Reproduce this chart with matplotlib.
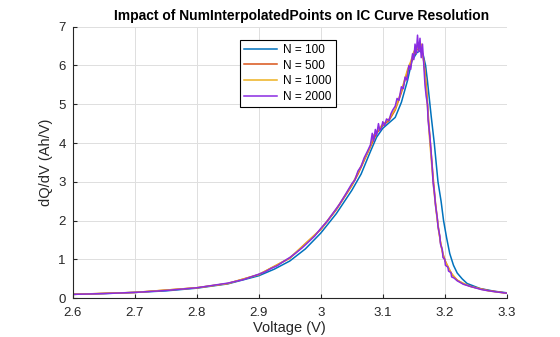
import matplotlib
matplotlib.use("Agg")
import matplotlib.pyplot as plt

# N = 100 (smooth)
v100 = [2.60, 2.65, 2.70, 2.75, 2.80, 2.85, 2.90, 2.925, 2.95, 2.975, 3.00, 3.025,
        3.05, 3.065, 3.08, 3.09, 3.10, 3.11, 3.12, 3.13, 3.14, 3.147, 3.155, 3.16,
        3.165, 3.169, 3.172, 3.178, 3.183, 3.189, 3.194, 3.198, 3.203, 3.208, 3.214,
        3.22, 3.228, 3.236, 3.257, 3.28, 3.30]
q100 = [0.10, 0.12, 0.15, 0.19, 0.26, 0.37, 0.58, 0.75, 0.96, 1.27, 1.68, 2.18,
        2.78, 3.20, 3.78, 4.15, 4.38, 4.52, 4.66, 5.05, 5.62, 6.12, 6.33, 6.38,
        6.28, 6.00, 5.60, 4.70, 4.00, 3.00, 2.50, 2.00, 1.55, 1.15, 0.85,
        0.65, 0.50, 0.38, 0.25, 0.18, 0.14]

# N = 500
v500 = [2.60, 2.70, 2.80, 2.85, 2.90, 2.95, 3.00, 3.025, 3.05, 3.06, 3.07, 3.08,
        3.09, 3.10, 3.11, 3.12, 3.13, 3.14, 3.145, 3.15, 3.155, 3.16, 3.165, 3.168,
        3.171, 3.174, 3.177, 3.181, 3.185, 3.189, 3.193, 3.197, 3.201, 3.206, 3.212,
        3.22, 3.23, 3.245, 3.27, 3.30]
q500 = [0.10, 0.15, 0.27, 0.38, 0.61, 1.03, 1.77, 2.28, 2.90, 3.20, 3.55, 3.90,
        4.25, 4.45, 4.58, 4.85, 5.30, 5.85, 6.05, 6.25, 6.40, 6.45, 6.25, 5.85,
        5.30, 4.55, 3.95, 3.15, 2.45, 1.90, 1.45, 1.15, 0.95, 0.78, 0.60,
        0.47, 0.37, 0.29, 0.20, 0.13]

# N = 1000
v1000 = [2.60, 2.70, 2.80, 2.85, 2.90, 2.95, 3.00, 3.025, 3.05, 3.06, 3.07, 3.08,
         3.085, 3.09, 3.095, 3.10, 3.11, 3.12, 3.13, 3.14, 3.145, 3.15, 3.155, 3.158,
         3.162, 3.166, 3.169, 3.172, 3.175, 3.178, 3.182, 3.186, 3.19, 3.194, 3.198,
         3.203, 3.21, 3.22, 3.24, 3.27, 3.30]
q1000 = [0.10, 0.15, 0.27, 0.38, 0.61, 1.04, 1.78, 2.30, 2.92, 3.24, 3.58, 3.92,
         4.20, 4.28, 4.40, 4.48, 4.62, 4.88, 5.35, 5.90, 6.10, 6.35, 6.50, 6.40,
         6.55, 6.10, 5.60, 4.95, 4.20, 3.60, 2.85, 2.25, 1.75, 1.35, 1.05,
         0.88, 0.66, 0.46, 0.31, 0.19, 0.13]

# N = 2000 (noisy)
v2000 = [2.60, 2.65, 2.70, 2.75, 2.80, 2.85, 2.875, 2.90, 2.91, 2.92, 2.93, 2.94,
         2.95, 2.96, 2.97, 2.98, 2.99, 3.00, 3.01, 3.02, 3.03, 3.04, 3.05, 3.055,
         3.06, 3.065, 3.07, 3.075, 3.08, 3.083, 3.085, 3.088, 3.09, 3.093, 3.095, 3.098,
         3.10, 3.103, 3.106, 3.11, 3.113, 3.116, 3.12, 3.123, 3.126, 3.13, 3.133, 3.136,
         3.139, 3.142, 3.145, 3.148, 3.150, 3.152, 3.154, 3.156, 3.158, 3.160, 3.162, 3.164,
         3.166, 3.168, 3.170, 3.172, 3.173, 3.176, 3.178, 3.180, 3.181, 3.183, 3.185, 3.188,
         3.189, 3.192, 3.193, 3.196, 3.197, 3.200, 3.201, 3.205, 3.206, 3.21, 3.211, 3.215,
         3.22, 3.23, 3.242, 3.26, 3.28, 3.30]
q2000 = [0.10, 0.12, 0.15, 0.20, 0.27, 0.39, 0.48, 0.62, 0.68, 0.77, 0.84, 0.95,
         1.05, 1.17, 1.30, 1.45, 1.60, 1.80, 1.98, 2.20, 2.42, 2.68, 2.95, 3.05,
         3.28, 3.40, 3.62, 3.78, 3.95, 4.25, 4.05, 4.35, 4.20, 4.50, 4.32, 4.40,
         4.55, 4.45, 4.62, 4.58, 4.75, 4.85, 4.95, 5.15, 5.10, 5.45, 5.40, 5.70,
         5.62, 6.00, 5.90, 6.30, 6.15, 6.55, 6.30, 6.78, 6.35, 6.70, 6.20, 6.55,
         6.05, 5.50, 5.20, 5.00, 4.60, 4.15, 3.75, 3.30, 3.00, 2.75, 2.40, 2.05,
         1.85, 1.60, 1.40, 1.25, 1.05, 1.00, 0.85, 0.80, 0.70, 0.66, 0.55, 0.52,
         0.45, 0.36, 0.30, 0.22, 0.17, 0.13]

series = [
    ("N = 100", v100, q100, "#0072BD"),
    ("N = 500", v500, q500, "#D95319"),
    ("N = 1000", v1000, q1000, "#EDB120"),
    ("N = 2000", v2000, q2000, "#8A2BE2"),
]

plt.rcParams['font.family'] = ['Arial', 'Liberation Sans', 'DejaVu Sans']

fig = plt.figure(figsize=(5.6, 3.37), dpi=100, facecolor='white')
ax = fig.add_axes([0.130, 0.115, 0.775, 0.806])

for name, v, q, c in series:
    ax.plot(v, q, color=c, lw=1.1, label=name)

ax.set_xlim(2.6, 3.3)
ax.set_ylim(0, 7)
ax.set_xticks([2.6, 2.7, 2.8, 2.9, 3.0, 3.1, 3.2, 3.3])
ax.set_xticklabels(["2.6", "2.7", "2.8", "2.9", "3", "3.1", "3.2", "3.3"])
ax.set_yticks(range(8))
ax.grid(True, color='#dfdfdf', lw=0.7)
ax.set_axisbelow(True)
for s in ['top', 'right']:
    ax.spines[s].set_visible(False)
for s in ['left', 'bottom']:
    ax.spines[s].set_color('#262626')
    ax.spines[s].set_linewidth(0.8)
ax.tick_params(direction='in', length=3, labelsize=9.5, colors='#262626')
ax.tick_params(axis='x', pad=6)
ax.tick_params(axis='y', pad=5)

ax.set_xlabel("Voltage (V)", fontsize=10.5, color='#262626', labelpad=2)
ax.set_ylabel("dQ/dV (Ah/V)", fontsize=10.5, color='#262626', labelpad=4)
ax.set_title("Impact of NumInterpolatedPoints on IC Curve Resolution",
             fontsize=10, fontweight='bold', pad=5, x=0.527)

leg = ax.legend(loc='upper left', bbox_to_anchor=(0.385, 0.951), fontsize=8.5,
                frameon=True, fancybox=False, edgecolor='black', framealpha=1,
                handlelength=2.8, borderpad=0.35, labelspacing=0.3,
                handletextpad=0.5, borderaxespad=0)
leg.get_frame().set_linewidth(0.8)

plt.savefig('out.png', dpi=100)
